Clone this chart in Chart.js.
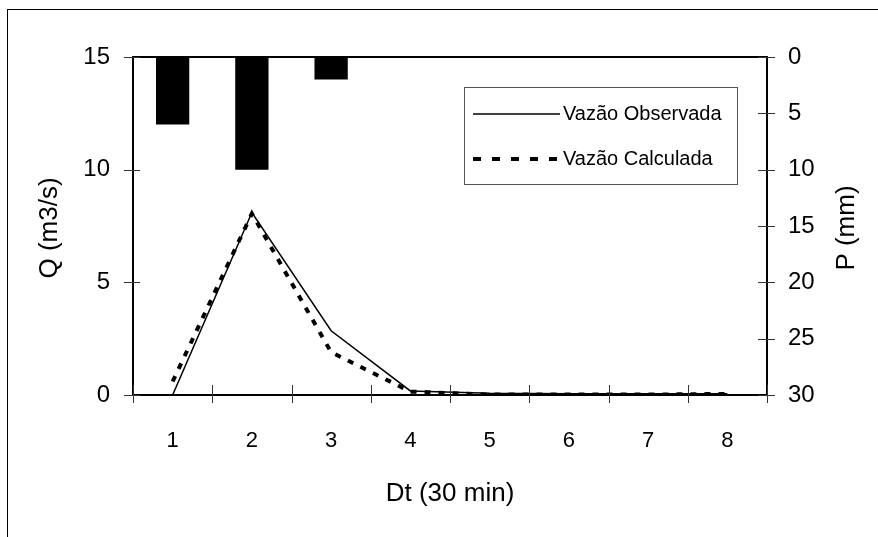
<!DOCTYPE html>
<html>
<head>
<meta charset="utf-8">
<script src="https://cdn.jsdelivr.net/npm/chart.js@4.4.1/dist/chart.umd.min.js"></script>
<style>
  html, body { margin: 0; padding: 0; background: #fff; overflow: hidden; }
  #wrap { position: relative; width: 878px; height: 537px; }
  #frame { position: absolute; left: 7px; top: 9px; width: 900px; height: 600px; border: 1px solid #000; box-sizing: border-box; }
  canvas { position: absolute; left: 0; top: 0; }
</style>
</head>
<body>
<div id="wrap">
  <div id="frame"></div>
  <canvas id="hydroChart" width="878" height="537"></canvas>
</div>
<script>
// data
var intervals = ['1', '2', '3', '4', '5', '6', '7', '8'];
var qObserved = [0, 8.1, 2.85, 0.18, 0.08, 0.06, 0.06, 0.06];
var qCalculated = [0.6, 8.05, 1.9, 0.15, 0.02, 0.02, 0.02, 0.05];
var rainfall = [6, 10, 2, 0, 0, 0, 0, 0];
var qTicks = [0, 5, 10, 15];
var pTicks = [0, 5, 10, 15, 20, 25, 30];

var FONT = 'Liberation Sans, Arial, sans-serif';

// axis frame, ticks that cross the axis lines, y titles (both read upward) and the boxed legend
var framePlugin = {
  id: 'frame',
  afterDraw: function(chart) {
    var ctx = chart.ctx;
    var a = chart.chartArea;
    var y = chart.scales.y, y2 = chart.scales.y2;
    ctx.save();
    ctx.strokeStyle = '#000';
    ctx.lineWidth = 2;
    ctx.strokeRect(a.left, a.top, a.right - a.left, a.bottom - a.top);

    ctx.lineWidth = 1;
    ctx.strokeStyle = '#333';
    ctx.beginPath();
    qTicks.forEach(function(v) {
      var py = Math.round(y.getPixelForValue(v)) + 0.5;
      ctx.moveTo(a.left - 9, py); ctx.lineTo(a.left + 7, py);
    });
    pTicks.forEach(function(v) {
      var py = Math.round(y2.getPixelForValue(v)) + 0.5;
      ctx.moveTo(a.right - 9, py); ctx.lineTo(a.right + 8, py);
    });
    for (var i = 0; i <= intervals.length; i++) {
      var px = Math.round(a.left + i * (a.right - a.left) / intervals.length) + 0.5;
      ctx.moveTo(px, a.bottom - 10); ctx.lineTo(px, a.bottom + 8);
    }
    ctx.stroke();

    // axis titles
    ctx.fillStyle = '#000';
    ctx.font = '26px ' + FONT;
    ctx.textAlign = 'center';
    ctx.textBaseline = 'middle';
    ctx.save();
    ctx.translate(50, 228);
    ctx.rotate(-Math.PI / 2);
    ctx.fillText('Q (m3/s)', 0, 0);
    ctx.restore();
    ctx.save();
    ctx.translate(847, 228);
    ctx.rotate(-Math.PI / 2);
    ctx.fillText('P (mm)', 0, 0);
    ctx.restore();

    // legend
    var lx = 464, ly = 87, lw = 273, lh = 97;
    ctx.strokeStyle = '#555';
    ctx.lineWidth = 1;
    ctx.strokeRect(lx + 0.5, ly + 0.5, lw, lh);
    var ds = chart.data.datasets;
    ctx.font = '20px ' + FONT;
    ctx.textAlign = 'left';

    ctx.strokeStyle = '#000';
    ctx.lineWidth = 1.5;
    ctx.beginPath();
    ctx.moveTo(473, 114); ctx.lineTo(560, 114);
    ctx.stroke();
    ctx.fillText(ds[0].label, 563, 114);

    ctx.lineWidth = 4;
    ctx.setLineDash([8, 11]);
    ctx.beginPath();
    ctx.moveTo(473, 159); ctx.lineTo(563, 159);
    ctx.stroke();
    ctx.setLineDash([]);
    ctx.fillText(ds[1].label, 563, 159);
    ctx.restore();
  }
};

var ctx = document.getElementById('hydroChart').getContext('2d');
var hydroChart = new Chart(ctx, {
  data: {
    labels: intervals,
    datasets: [{
      type: 'line',
      label: 'Vazão Observada',
      data: qObserved,
      yAxisID: 'y',
      borderColor: '#000',
      borderWidth: 1.5,
      pointRadius: 0,
      tension: 0,
      order: 1
    },
    {
      type: 'line',
      label: 'Vazão Calculada',
      data: qCalculated,
      yAxisID: 'y',
      borderColor: '#000',
      borderWidth: 4,
      borderDash: [6, 8],
      pointRadius: 0,
      tension: 0,
      order: 0
    },
    {
      type: 'bar',
      label: 'P',
      data: rainfall,
      yAxisID: 'y2',
      backgroundColor: '#000',
      borderWidth: 0,
      barPercentage: 0.42,
      categoryPercentage: 1,
      order: 2
    }]
  },
  options: {
    responsive: false,
    animation: false,
    events: [],
    layout: { padding: { left: 74, right: 16, top: 57, bottom: 28 } },
    plugins: {
      legend: { display: false },
      tooltip: { enabled: false }
    },
    scales: {
      x: {
        type: 'category',
        offset: true,
        grid: { display: false, drawTicks: false },
        border: { display: false },
        ticks: { color: '#000', font: { family: FONT, size: 22 }, padding: 33, maxRotation: 0 },
        title: { display: true, text: 'Dt (30 min)', color: '#000', font: { family: FONT, size: 26 }, padding: 0 },
        afterFit: function(s) { s.height = 114; }
      },
      y: {
        position: 'left',
        min: 0, max: 15,
        grid: { display: false, drawTicks: false },
        border: { display: false },
        ticks: { stepSize: 5, color: '#000', font: { family: FONT, size: 24 }, padding: 23 },
        afterFit: function(s) { s.width = 59; }
      },
      y2: {
        position: 'right',
        reverse: true,
        min: 0, max: 30,
        grid: { display: false, drawTicks: false },
        border: { display: false },
        ticks: { stepSize: 5, color: '#000', font: { family: FONT, size: 24 }, padding: 21 },
        afterFit: function(s) { s.width = 95; }
      }
    }
  },
  plugins: [framePlugin]
});
</script>
</body>
</html>
